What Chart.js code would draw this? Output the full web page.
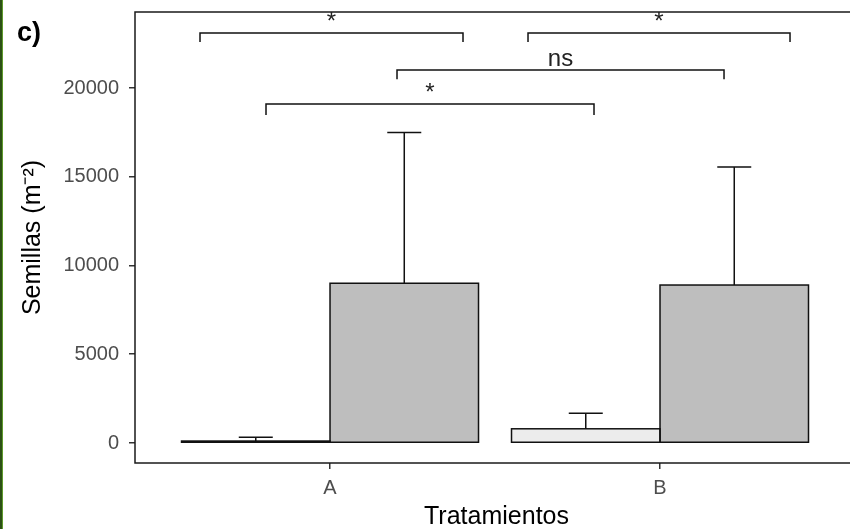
<!DOCTYPE html>
<html>
<head>
<meta charset="utf-8">
<script src="https://cdn.jsdelivr.net/npm/chart.js@4/dist/chart.umd.min.js"></script>
<style>
    html, body { margin: 0; padding: 0; background: #fff; overflow: hidden; }
    #wrap { position: relative; width: 870px; height: 529px; }
</style>
</head>
<body>
<div id="wrap"><canvas id="chart"></canvas></div>
<script>
const categories = ['A', 'B'];
const lightValues = [110, 800];
const lightUpper = [330, 1670];
const greyValues = [9000, 8900];
const greyUpper = [17500, 15550];
const yTicks = [0, 5000, 10000, 15000, 20000];

// significance brackets (x in category units, y in data units)
const bracketStart = [-0.394, 0.6, 0.203, -0.194];
const bracketEnd = [0.403, 1.394, 1.194, 0.8];
const bracketLine = [23100, 23100, 21010, 19100];
const bracketTip = [22590, 22590, 20500, 18480];
const bracketLabel = ['*', '*', 'ns', '*'];

const FONT = "'Liberation Sans', Arial, sans-serif";

const toPoints = (values) => categories.map((c, i) => ({ x: i, y: values[i] }));

const extras = {
    id: 'extras',
    afterDatasetsDraw(chart) {
        const { ctx, chartArea: area, scales: { x, y } } = chart;
        ctx.save();

        // bar outlines centred on the edges, like ggplot
        ctx.strokeStyle = '#111';
        ctx.lineWidth = 1.5;
        [0, 1].forEach((d) => {
            chart.getDatasetMeta(d).data.forEach((bar) => {
                const { x: bx, y: by, base, width } = bar.getProps(['x', 'y', 'base', 'width'], true);
                ctx.strokeRect(bx - width / 2, by, width, base - by);
            });
        });

        // error bars (upper half only)
        [lightUpper, greyUpper].forEach((upper, d) => {
            const meta = chart.getDatasetMeta(d);
            meta.data.forEach((bar, i) => {
                const top = y.getPixelForValue(upper[i]);
                ctx.beginPath();
                ctx.moveTo(bar.x, bar.y);
                ctx.lineTo(bar.x, top);
                ctx.moveTo(bar.x - 17, top);
                ctx.lineTo(bar.x + 17, top);
                ctx.stroke();
            });
        });

        // panel border
        ctx.strokeStyle = '#1a1a1a';
        ctx.strokeRect(area.left, area.top, area.right - area.left, area.bottom - area.top);

        // brackets
        ctx.strokeStyle = '#111';
        ctx.fillStyle = '#222';
        ctx.font = '24px ' + FONT;
        ctx.textAlign = 'center';
        ctx.textBaseline = 'alphabetic';
        bracketLabel.forEach((label, i) => {
            const x0 = x.getPixelForValue(bracketStart[i]);
            const x1 = x.getPixelForValue(bracketEnd[i]);
            const yl = y.getPixelForValue(bracketLine[i]);
            const yt = y.getPixelForValue(bracketTip[i]);
            ctx.beginPath();
            ctx.moveTo(x0, yt);
            ctx.lineTo(x0, yl);
            ctx.lineTo(x1, yl);
            ctx.lineTo(x1, yt);
            ctx.stroke();
            ctx.fillText(label, (x0 + x1) / 2, yl - 4);
        });

        // panel tag
        ctx.fillStyle = '#000';
        ctx.font = 'bold 27px ' + FONT;
        ctx.textAlign = 'left';
        ctx.fillText('c)', 17, 41);

        // green frame strip on the left
        ctx.fillStyle = '#2c5016';
        ctx.fillRect(0, 0, 2, chart.height);
        ctx.fillStyle = '#5e9a2c';
        ctx.fillRect(2, 0, 1, chart.height);

        ctx.restore();
    },
};

new Chart(document.getElementById('chart').getContext('2d'), {
    type: 'bar',
    data: {
        datasets: [
            {
                data: toPoints(lightValues),
                backgroundColor: '#ececec',
                borderWidth: 0,
            },
            {
                data: toPoints(greyValues),
                backgroundColor: '#bebebe',
                borderWidth: 0,
            },
        ],
    },
    options: {
        responsive: true,
        maintainAspectRatio: false,
        animation: false,
        layout: { padding: { left: 0, right: 12, top: 12, bottom: -3 } },
        datasets: { bar: { categoryPercentage: 0.9, barPercentage: 1.0, inflateAmount: 0 } },
        plugins: {
            legend: { display: false },
            tooltip: { enabled: false },
        },
        scales: {
            x: {
                type: 'linear',
                offset: false,
                min: -0.591,
                max: 1.6,
                afterBuildTicks(scale) {
                    scale.ticks = categories.map((c, i) => ({ value: i }));
                },
                afterFit(scale) {
                    scale.height = 69;
                    scale.paddingLeft = 0;
                    scale.paddingRight = 0;
                },
                border: { display: false },
                grid: { offset: false, drawOnChartArea: false, drawTicks: true, tickLength: 6, color: '#333', lineWidth: 1.5 },
                ticks: {
                    color: '#4d4d4d',
                    font: { family: FONT, size: 20 },
                    padding: 7,
                    callback: (value) => categories[value] ?? '',
                },
                title: {
                    display: true,
                    text: 'Tratamientos',
                    color: '#000',
                    font: { family: FONT, size: 25 },
                    padding: { top: 0, bottom: 0 },
                },
            },
            y: {
                min: -1127,
                max: 24282,
                afterBuildTicks(scale) {
                    scale.ticks = yTicks.map((v) => ({ value: v }));
                },
                afterFit(scale) {
                    scale.width = 135;
                    scale.paddingTop = 0;
                    scale.paddingBottom = 0;
                },
                border: { display: false },
                grid: { drawOnChartArea: false, drawTicks: true, tickLength: 6, color: '#333', lineWidth: 1.5 },
                ticks: {
                    color: '#4d4d4d',
                    font: { family: FONT, size: 20 },
                    padding: 10,
                    callback: (value) => String(value),
                },
                title: {
                    display: true,
                    text: 'Semillas (m⁻²)',
                    color: '#000',
                    font: { family: FONT, size: 25 },
                    padding: { top: 18, bottom: 0 },
                },
            },
        },
    },
    plugins: [extras],
});
</script>
</body>
</html>
